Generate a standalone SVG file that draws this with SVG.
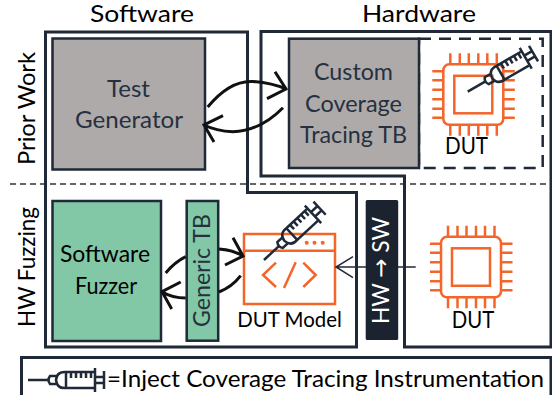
<svg xmlns="http://www.w3.org/2000/svg" width="552" height="395" viewBox="0 0 552 395">
<style>
text{font-family:"Lato","Liberation Sans",sans-serif;font-size:24px;fill:#000}
.t{font-size:22.500px}
.b{fill:#27303f}
.w{fill:#fff}
.o{fill:none;stroke:#1f2937;stroke-width:3}
.box{stroke:#1f2937;stroke-width:2.5}
.gray{fill:#aeaaaa}
.green{fill:#82c8a6}
.or{fill:none;stroke:#f4652a;stroke-width:2.5}
.arr{fill:none;stroke:#111;stroke-width:3}
.syr{fill:none;stroke:#1f2937;stroke-width:2.5}
</style>
<defs>
<g id="chip" class="or">
<rect x="0" y="0" width="60" height="60.5" rx="6"/>
<rect x="11" y="11.5" width="38" height="37.5"/>
<path d="M7 0V-11M16.500 0V-11M25.500 0V-11M35 0V-11M44 0V-11M53.500 0V-11M7 60.500V71.500M16.500 60.500V71.500M25.500 60.500V71.500M35 60.500V71.500M44 60.500V71.500M53.500 60.500V71.500M0 7H-11M0 16H-11M0 25.500H-11M0 35H-11M0 44.500H-11M0 53.500H-11M60 7H71.500M60 16H71.500M60 25.500H71.500M60 35H71.500M60 44.500H71.500M60 53.500H71.500"/>
</g>
<g id="syringe" class="syr">
<path d="M0 0H20"/>
<path d="M29 -4H22Q19 0 22 4H29"/>
<path d="M66 -8H38Q29 -9 28 0Q29 9 38 8H66"/>
<path d="M38 -8V8"/>
<path d="M43 -8V-2M48 -8V-2M53 -8V-2M58 -8V-2M63 -8V-2"/>
<path d="M67 -12V12M67 -3H76M67 3H76M76 -9V9"/>
</g>
</defs>

<path d="M10 184H552" fill="none" stroke="#333" stroke-width="1.500" stroke-dasharray="6 4"/>

<g id="software-region"><path class="o" d="M45.500 32H247.500V192.500H356.500V347H45.500Z"/>
<text class="t" x="90" y="22" textLength="104" lengthAdjust="spacingAndGlyphs">Software</text></g>
<g id="hardware-region"><path class="o" d="M261 31.500H551V347H404.500V176H261Z"/>
<text class="t" x="362" y="22" textLength="114" lengthAdjust="spacingAndGlyphs">Hardware</text></g>

<g id="row-labels">
<text transform="translate(35 165) rotate(-90)" textLength="113" lengthAdjust="spacingAndGlyphs">Prior Work</text>
<text transform="translate(35 327) rotate(-90)" textLength="120" lengthAdjust="spacingAndGlyphs">HW Fuzzing</text>
</g>

<g id="test-generator">
<rect class="box gray" x="52.500" y="38.500" width="152.500" height="131"/>
<text class="b" x="107" y="97" textLength="43" lengthAdjust="spacingAndGlyphs">Test</text>
<text class="b" x="75" y="128" textLength="108" lengthAdjust="spacingAndGlyphs">Generator</text>
</g>

<g id="custom-tb">
<rect x="419" y="38.700" width="123.700" height="129.300" fill="none" stroke="#1f2937" stroke-width="2.500" stroke-dasharray="12 8"/>
<rect class="box gray" x="289" y="38.700" width="130" height="129.300"/>
<text class="b" x="314" y="80" textLength="79" lengthAdjust="spacingAndGlyphs">Custom</text>
<text class="b" x="305" y="112" textLength="97" lengthAdjust="spacingAndGlyphs">Coverage</text>
<text class="b" x="300" y="143" textLength="107" lengthAdjust="spacingAndGlyphs">Tracing TB</text>
</g>

<g id="dut-instrumented">
<use href="#chip" x="443.300" y="64.300"/>
<use href="#syringe" transform="translate(467.700 91.700) rotate(-30)"/>
<text x="445" y="154" textLength="43" lengthAdjust="spacingAndGlyphs">DUT</text>
</g>

<g id="software-fuzzer">
<rect class="box green" x="52.500" y="201" width="108.500" height="140"/>
<text x="60" y="262" textLength="90" lengthAdjust="spacingAndGlyphs">Software</text>
<text x="75" y="294" textLength="62" lengthAdjust="spacingAndGlyphs">Fuzzer</text>
</g>

<g id="generic-tb">
<rect class="box green" x="186.700" y="201" width="31.500" height="139.700"/>
<text class="b" transform="translate(210 327) rotate(-90)" textLength="113" lengthAdjust="spacingAndGlyphs">Generic TB</text>
</g>

<g id="dut-model">
<rect class="or" x="244" y="234" width="91" height="70"/>
<path class="or" d="M244 250.700H335M276 262.700L263 275L276 287M295.700 262.300L284 288M303.300 262.700L315.700 275L303.300 287"/>
<circle cx="306.700" cy="242.700" r="2" fill="#f4652a"/><circle cx="314.500" cy="242.700" r="2" fill="#f4652a"/><circle cx="322.700" cy="242.700" r="2" fill="#f4652a"/>
<use href="#syringe" transform="translate(264 260) rotate(-43)"/>
<text x="237.300" y="327.300" style="font-size:21px" textLength="104.500" lengthAdjust="spacingAndGlyphs">DUT Model</text>
</g>

<g id="dut-plain">
<use href="#chip" x="441" y="236.800"/>
<text x="451.700" y="328" textLength="42.500" lengthAdjust="spacingAndGlyphs">DUT</text>
</g>

<g id="connectors">
<path class="arr" d="M207.700 107Q230 80 253 81.500Q272 83 286 89M275 71.700L286 89L267 98.700"/>
<path class="arr" d="M283 107.700Q260 131 233 131.700Q216 131 204 125M223 115.700L204 125L214 142"/>
<path class="arr" d="M219 249Q233 250 243 256M233 237.700L243 256L225 265M165.700 273Q175 262 185.700 256.700"/>
<path class="arr" d="M240.700 275.700Q232 287 219 292M185.700 298Q172 298 162 291.700M180.700 282L162 291.700L171.700 309"/>
<path d="M415.700 267H336M353 256.700L336 267L353 277.700" fill="none" stroke="#1f2937" stroke-width="1.500"/>
</g>

<g id="hw-sw">
<rect x="365.700" y="200" width="32.500" height="140" rx="1.500" fill="#1b2230"/>
<text class="w" transform="translate(389 324) rotate(-90)" textLength="107" lengthAdjust="spacingAndGlyphs">HW <tspan style="font-family:'DejaVu Sans',sans-serif">→</tspan> SW</text>
</g>

<g id="legend">
<path d="M21.500 395V357.500H551V395" fill="none" stroke="#1f2937" stroke-width="3"/>
<use href="#syringe" transform="translate(28 380)"/>
<text x="107" y="387" textLength="437" lengthAdjust="spacingAndGlyphs">=Inject Coverage Tracing Instrumentation</text>
</g>
</svg>
